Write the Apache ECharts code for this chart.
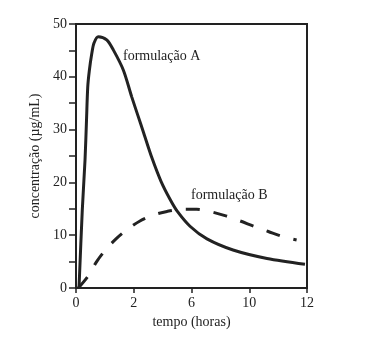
<!DOCTYPE html>
<html><head><meta charset="utf-8">
<script src="https://cdn.jsdelivr.net/npm/echarts@6/dist/echarts.min.js"></script>
<style>html,body{margin:0;padding:0;background:#fff}#c{width:385px;height:358px}</style>
</head><body><div id="c"></div>
<script>
// x positions are in tick-slot units (the original axis spaces its labels evenly)
const xTickLabels = ['0', '2', '6', '10', '12'];
const formA_x = [0.052, 0.109, 0.156, 0.182, 0.203, 0.23, 0.272, 0.312, 0.386, 0.532, 0.646, 0.819, 0.965, 1.074, 1.165, 1.316, 1.472, 1.628, 1.749, 1.974, 2.268, 2.719, 3.307, 3.965];
const formA_y = [0, 14.8, 24.2, 31.8, 38, 41.1, 44.3, 46.4, 47.6, 47, 45.1, 41.3, 36.2, 32.6, 29.6, 24.6, 20.2, 16.8, 14.6, 11.7, 9.3, 7.2, 5.6, 4.5];
const formB_x = [0.04, 0.213, 0.358, 0.502, 0.693, 0.878, 1.108, 1.333, 1.576, 1.83, 2.09, 2.35, 2.61, 2.84, 3.1, 3.33, 3.59, 3.82];
const formB_y = [0, 2.3, 5.0, 7.1, 9.3, 11.0, 12.7, 13.8, 14.5, 14.9, 14.9, 14.4, 13.6, 12.7, 11.6, 10.7, 9.7, 9.1];
const labelA = 'formulação A';
const labelB = 'formulação B';

const font = 'Liberation Serif';
const ink = '#222';
const chart = echarts.init(document.getElementById('c'));
chart.setOption({
  animation: false,
  grid: {left: 76, top: 24, right: 78, bottom: 70, show: true, borderColor: ink, borderWidth: 2, backgroundColor: 'transparent'},
  xAxis: {
    type: 'value', min: 0, max: 4, interval: 1,
    name: 'tempo (horas)', nameLocation: 'middle', nameGap: 26,
    nameTextStyle: {fontFamily: font, fontSize: 14, color: ink},
    axisLine: {lineStyle: {color: ink, width: 2}},
    axisTick: {length: 5, lineStyle: {color: ink, width: 1.5}},
    axisLabel: {fontFamily: font, fontSize: 14, color: ink, margin: 8, formatter: v => xTickLabels[Math.round(v)]},
    splitLine: {show: false}
  },
  yAxis: {
    type: 'value', min: 0, max: 50, interval: 5,
    name: 'concentração (µg/mL)', nameLocation: 'middle', nameGap: 28,
    nameTextStyle: {fontFamily: font, fontSize: 14, color: ink},
    axisLine: {show: true, lineStyle: {color: ink, width: 2}},
    axisTick: {show: true, length: 7, lineStyle: {color: ink, width: 1.5}},
    axisLabel: {fontFamily: font, fontSize: 14, color: ink, margin: 9, formatter: v => (v % 10 === 0 ? String(v) : '')},
    splitLine: {show: false}
  },
  series: [
    {type: 'line', data: formA_x.map((x, i) => [x, formA_y[i]]), smooth: 0.3, symbol: 'none',
     lineStyle: {color: ink, width: 3}},
    {type: 'line', data: formB_x.map((x, i) => [x, formB_y[i]]), smooth: 0.3, symbol: 'none',
     lineStyle: {color: ink, width: 3, type: [14, 14]}}
  ],
  graphic: [
    {type: 'text', left: 123, top: 49, style: {text: labelA, font: '14px "Liberation Serif"', fill: ink}},
    {type: 'text', left: 191, top: 188, style: {text: labelB, font: '14px "Liberation Serif"', fill: ink}}
  ]
});
</script></body></html>
